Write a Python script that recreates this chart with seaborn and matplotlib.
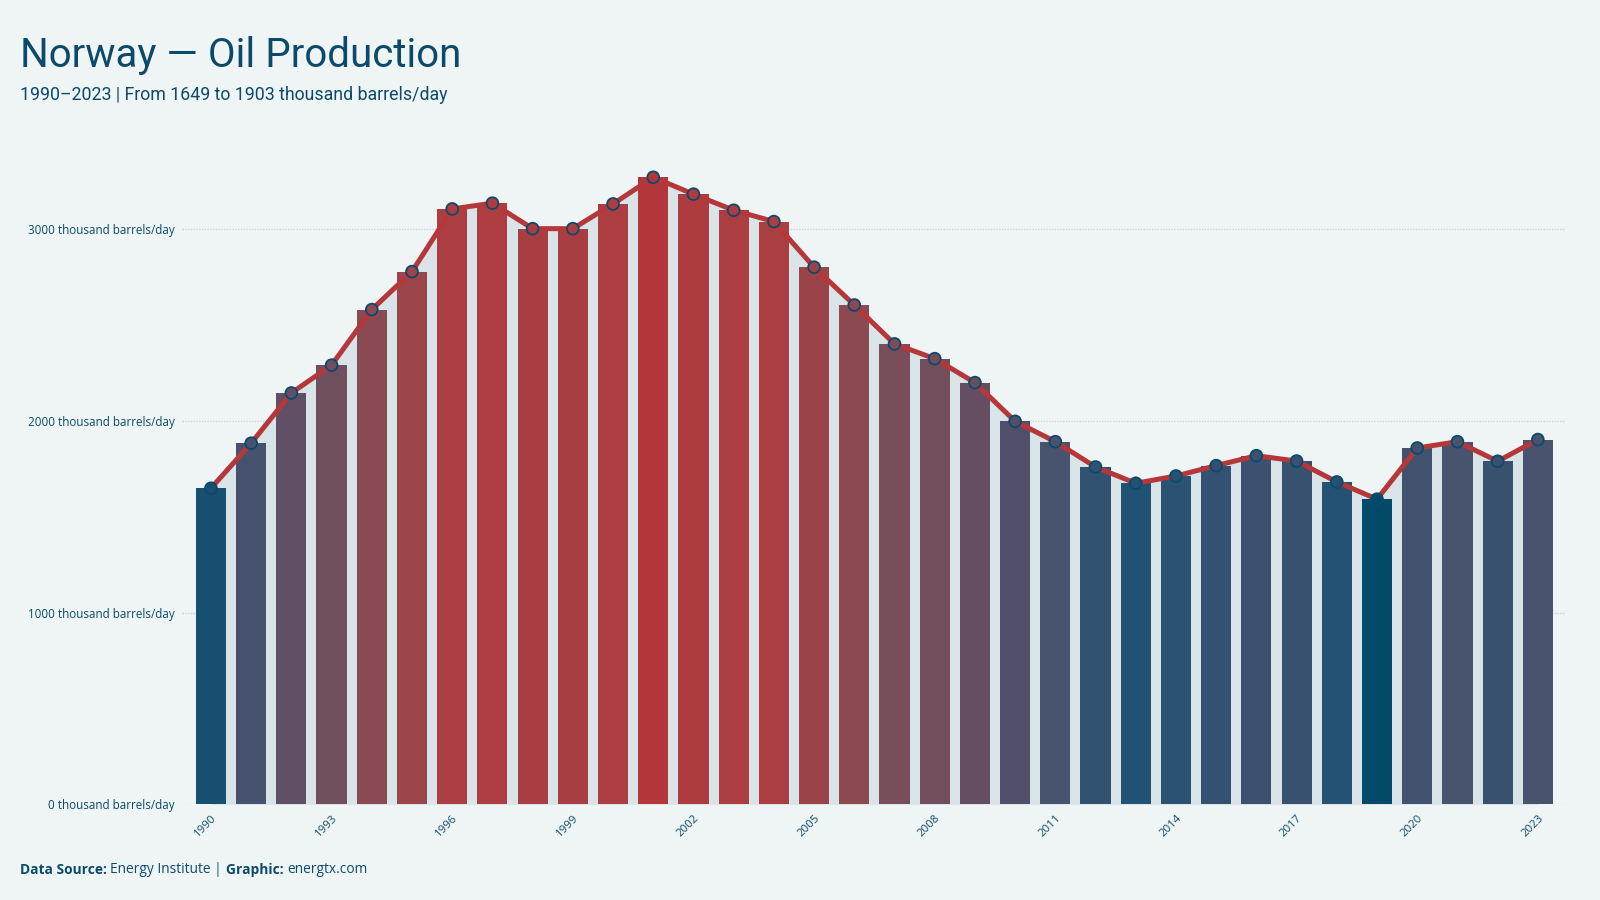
import numpy as np
import matplotlib
matplotlib.use("Agg")
import matplotlib.pyplot as plt
from matplotlib.colors import LinearSegmentedColormap
import seaborn as sns

# data (thousand barrels/day)
years = list(range(1990, 2024))
production = [1649, 1884, 2146, 2291, 2581, 2779, 3106, 3136, 3003, 3003,
              3132, 3271, 3183, 3099, 3040, 2802, 2605, 2402, 2325, 2200,
              1998, 1892, 1760, 1675, 1713, 1767, 1819, 1791, 1682, 1592,
              1859, 1892, 1790, 1903]
tick_years = years[::3]
yticks = [0, 1000, 2000, 3000]

bg = "#eff5f5"
ink = "#0b4a6b"
red = "#b5373a"
fill_col = "#d8e4e8"

# value -> colour ramp (blue low, red high)
ramp = LinearSegmentedColormap.from_list("ramp", [
    (0.00, "#014a6a"), (0.05, "#235274"), (0.12, "#38516f"),
    (0.18, "#49536e"), (0.24, "#524f6b"), (0.42, "#704e5e"),
    (0.59, "#8a4a53"), (0.71, "#9a4549"), (0.84, "#a93e42"),
    (0.95, "#ae3c3f"), (1.00, "#b3373a")])

vals = np.array(production, dtype=float)
t = (vals - vals.min()) / (vals.max() - vals.min())
colors = [ramp(v) for v in t]

sns.set_theme(style="white")
plt.rcParams["font.family"] = ["Open Sans", "DejaVu Sans"]

fig = plt.figure(figsize=(16, 9), dpi=100, facecolor=bg)
ax = fig.add_axes([0.11375, 0.1062, 0.865, 0.7456])
ax.set_facecolor(bg)

x = np.arange(len(years))
ax.fill_between(x, 0, vals, color=fill_col, zorder=1, linewidth=0)

sns.barplot(x=x, y=vals, hue=x, palette=colors, legend=False,
            width=0.75, saturation=1, ax=ax, zorder=2, linewidth=0)
sns.lineplot(x=x, y=vals, color=red, linewidth=3.6, ax=ax, zorder=3)
ax.scatter(x, vals, s=72, c=colors, edgecolors=ink, linewidths=1.3, zorder=4)

ax.set_xlim(-0.72, len(years) - 1 + 0.7)
ax.set_ylim(0, 3500)

ax.set_yticks(yticks)
ax.set_yticklabels([f"{v} thousand barrels/day" for v in yticks],
                   fontsize=8.4, color=ink)
tick_pos = [years.index(y) for y in tick_years]
ax.set_xticks(tick_pos)
ax.set_xticklabels([str(y) for y in tick_years], rotation=45, ha="right",
                   rotation_mode="anchor", fontsize=8.2, color=ink)
ax.tick_params(axis="both", length=0)
ax.tick_params(axis="y", pad=5)
ax.tick_params(axis="x", pad=6)
ax.set_xlabel("")
ax.set_ylabel("")

ax.yaxis.grid(True, linestyle=(0, (1, 1)), color="#c3d4da", linewidth=1)
ax.set_axisbelow(True)
for s in ax.spines.values():
    s.set_visible(False)

title_fam = ["Liberation Sans Narrow", "Roboto", "DejaVu Sans"]
fig.text(0.0125, 1 - 67 / 900, "Norway \u2014 Oil Production", fontsize=29,
         color=ink, family=title_fam, va="baseline")
fig.text(0.0125, 1 - 100 / 900,
         "1990\u20132023 | From 1649 to 1903 thousand barrels/day",
         fontsize=12.8, color=ink, family=title_fam, va="baseline")

# footer with bold labels
fs = 9.9
t1 = fig.text(0.0125, 1 - 874 / 900, "Data Source: ", fontsize=fs,
              color=ink, fontweight="bold", va="baseline")
a2 = ax.annotate("Energy Institute | ", xy=(1, 0), xycoords=t1,
                 fontsize=fs, color=ink, va="bottom", annotation_clip=False)
a3 = ax.annotate("Graphic: ", xy=(1, 0), xycoords=a2, fontsize=fs,
                 color=ink, fontweight="bold", va="bottom",
                 annotation_clip=False)
ax.annotate("energtx.com", xy=(1, 0), xycoords=a3, fontsize=fs,
            color=ink, va="bottom", annotation_clip=False)

fig.savefig("out.png", dpi=100, facecolor=bg)
